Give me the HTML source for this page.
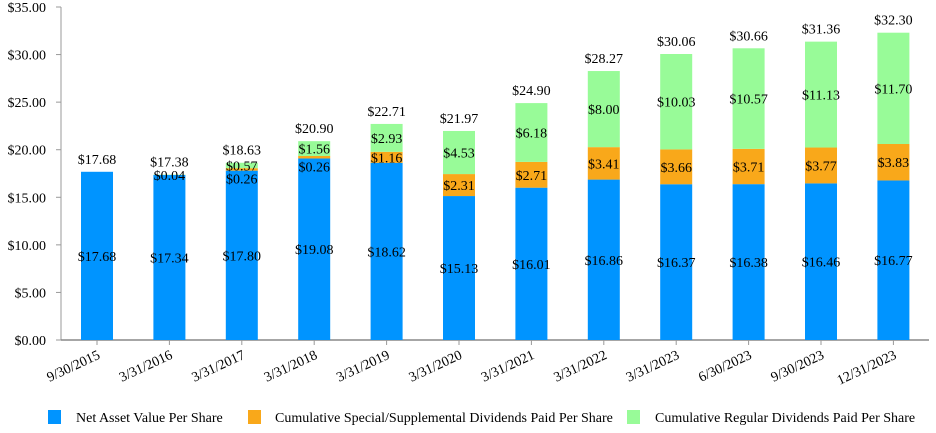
<!DOCTYPE html>
<html><head><meta charset="utf-8"><style>
html,body{margin:0;padding:0;background:#fff;}
text{font-family:"Liberation Serif","DejaVu Serif",serif;fill:#000;}
</style></head><body>
<svg id="chart" width="936" height="428" viewBox="0 0 936 428" xmlns="http://www.w3.org/2000/svg" font-family="Liberation Serif, serif">
<g id="axes"></g>
<g id="bars"></g>
<g id="legend">
<rect x="48" y="410" width="13" height="14" fill="#0094FF"/>
<text x="76" y="422" font-size="14">Net Asset Value Per Share</text>
<rect x="248" y="410" width="13" height="14" fill="#F9A81A"/>
<text x="275" y="422" font-size="14">Cumulative Special/Supplemental Dividends Paid Per Share</text>
<rect x="627" y="410" width="13" height="14" fill="#98FB98"/>
<text x="655" y="422" font-size="14">Cumulative Regular Dividends Paid Per Share</text>
</g>
</svg>
<script>
const categories = ["9/30/2015","3/31/2016","3/31/2017","3/31/2018","3/31/2019","3/31/2020","3/31/2021","3/31/2022","3/31/2023","6/30/2023","9/30/2023","12/31/2023"];
const navValues = [17.68,17.34,17.80,19.08,18.62,15.13,16.01,16.86,16.37,16.38,16.46,16.77];
const specialValues = [0,0,0.26,0.26,1.16,2.31,2.71,3.41,3.66,3.71,3.77,3.83];
const regularValues = [0,0.04,0.57,1.56,2.93,4.53,6.18,8.00,10.03,10.57,11.13,11.70];
const yTicks = [0,5,10,15,20,25,30,35];

const NS="http://www.w3.org/2000/svg";
const x0=61, y0=340, yTop=7, yMax=35, bw=32;
const x1=97, step=72.4;
function yScale(v){return y0-(v/yMax)*(y0-yTop);}
function xScale(i){return x1+i*step;}
function mk(tag,attrs,parent){const e=document.createElementNS(NS,tag);for(const k in attrs)e.setAttribute(k,attrs[k]);parent.appendChild(e);return e;}
const axes=document.getElementById('axes'), bars=document.getElementById('bars');
const fmt=v=>'$'+v.toFixed(2);
const FS='14';

yTicks.forEach(t=>{
  const y=yScale(t);
  const tk=mk('line',{x1:x0-5,x2:x0,y1:y,y2:y,stroke:'#999'},axes);
  
  
  const tx=mk('text',{x:46,y:y+5,'font-size':FS,'text-anchor':'end'},axes);
  tx.textContent=fmt(t);
  
  
});
const ya=mk('line',{x1:x0,x2:x0,y1:yTop,y2:y0,stroke:'#999'},axes);


const xa=mk('line',{x1:x0,x2:929,y1:y0,y2:y0,stroke:'#888','stroke-width':1.5},axes);



categories.forEach((c,i)=>{
  const cx=xScale(i);
  const tk=mk('line',{x1:cx,x2:cx,y1:y0,y2:y0+5,stroke:'#999'},axes);
  
  
  const tl=mk('text',{x:cx+4,y:y0+18,'font-size':FS,'text-anchor':'end',transform:`rotate(-25 ${cx+4} ${y0+18})`},axes);
  tl.textContent=c;
  
  

  const segs=[[navValues[i],'#0094FF','nav'],[specialValues[i],'#F9A81A','special'],[regularValues[i],'#98FB98','regular']];
  let base=0;
  segs.forEach(([v,col,nm])=>{
    if(v<=0){return;}
    const yb=yScale(base), yt=yScale(base+v);
    const r=mk('rect',{x:cx-bw/2,y:yt,width:bw,height:yb-yt,fill:col},bars);
    
    
    let ly=(yb+yt)/2+5;
    if(nm==='special'&&v<0.5) ly=yb+13;
    const t=mk('text',{x:cx,y:ly,'font-size':FS,'text-anchor':'middle'},bars);
    t.textContent=fmt(v);
    
    
    base+=v;
  });
  const tot=navValues[i]+specialValues[i]+regularValues[i];
  const tt=mk('text',{x:cx,y:yScale(tot)-8,'font-size':FS,'text-anchor':'middle'},bars);
  tt.textContent=fmt(tot);
  
  
});
</script>
</body></html>
